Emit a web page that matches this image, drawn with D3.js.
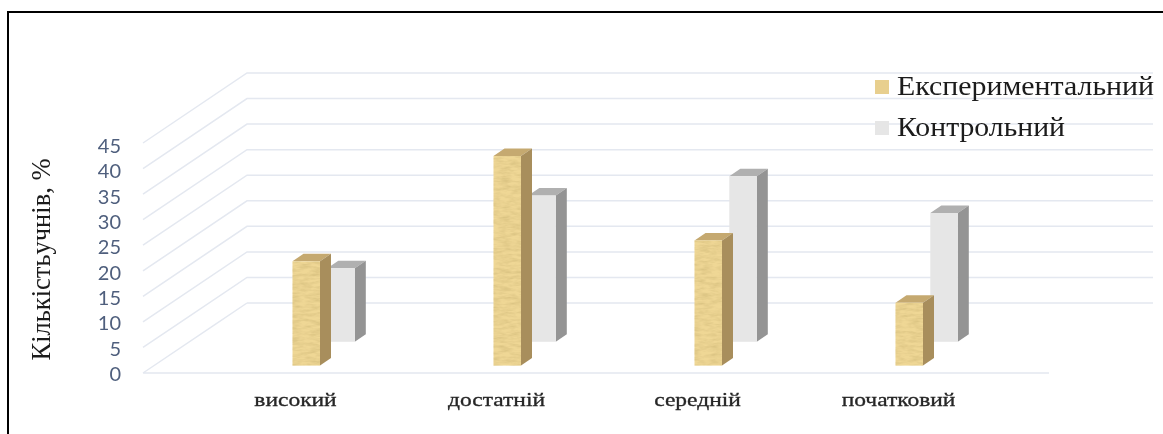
<!DOCTYPE html>
<html><head><meta charset="utf-8">
<style>html,body{margin:0;padding:0;background:#fff;overflow:hidden}svg{display:block}</style>
<script src="https://cdn.jsdelivr.net/npm/d3@7/dist/d3.min.js"></script>
</head><body><svg id="c" width="1163" height="434"></svg>
<script>
const categories=["високий","достатній","середній","початковий"];
const experimental=[20.4,41,24.5,12.3];
const control=[14.4,28.6,32.4,25.2];
const seriesNames=["Експериментальний","Контрольний"];
const ticks=[0,5,10,15,20,25,30,35,40,45];

const svg=d3.select("#c");
const defs=svg.append("defs");
const f=defs.append("filter").attr("id","soft").attr("x","-2%").attr("y","-2%").attr("width","104%").attr("height","104%");
f.append("feGaussianBlur").attr("stdDeviation",0.45);
const w=defs.append("filter").attr("id","wood").attr("x","0").attr("y","0").attr("width","100%").attr("height","100%");
w.append("feTurbulence").attr("type","fractalNoise").attr("baseFrequency","0.09 0.35").attr("numOctaves",3).attr("seed",4).attr("result","n");
w.append("feColorMatrix").attr("in","n").attr("type","matrix").attr("values","0 0 0 0 0.55  0 0 0 0 0.42  0 0 0 0 0.15  0.9 0 0 0 -0.3").attr("result","t");
w.append("feComposite").attr("in","t").attr("in2","SourceGraphic").attr("operator","in").attr("result","c");
w.append("feMerge").selectAll("feMergeNode").data(["SourceGraphic","c"]).join("feMergeNode").attr("in",d=>d);

const root=svg.append("g").attr("filter","url(#soft)");
const y=d3.scaleLinear().domain([0,45]).range([373,143]);
const yLabel=d3.scaleLinear().domain([0,45]).range([376,148]);
const x=d3.scaleBand().domain(categories).range([194.5,998.5]);
const DX=104,DY=-70,L=143,R=1049;

const grid=root.append("g").attr("fill","none").attr("stroke","#e4e8f0").attr("stroke-width",1.5);
grid.selectAll("path").data(ticks).join("path")
  .attr("d",t=>t===0
    ? `M${L+DX},${y(t)+DY}H${R+DX}M${L},${y(t)}L${L+DX},${y(t)+DY}M${L},${y(t)}H${R}`
    : `M${L},${y(t)}L${L+DX},${y(t)+DY}H${R+DX}`);

root.append("g").selectAll("text").data(ticks).join("text")
  .attr("x",121).attr("y",t=>yLabel(t)).attr("text-anchor","end").attr("dominant-baseline","middle")
  .attr("font-family","Lato, 'Open Sans', sans-serif").attr("font-size",20).attr("fill","#4f5f7d").text(d=>d);

const unit=y(0)-y(1);
function bar(g,cx,base,v,front,top,side,fil){
  const h=v*unit,W=27.5,dx=11,dy=-7.5;
  g.append("path").attr("fill",top).attr("d",`M${cx},${base-h}l${dx},${dy}h${W}l${-dx},${-dy}z`);
  g.append("path").attr("fill",side).attr("d",`M${cx+W},${base}v${-h}l${dx},${dy}v${h}z`);
  const r=g.append("rect").attr("x",cx).attr("y",base-h).attr("width",W).attr("height",h).attr("fill",front);
  if(fil){r.attr("filter",fil);}
}
const bars=root.append("g");
categories.forEach((c,i)=>{
  const cx=x(c)+x.bandwidth()/2;
  const g=bars.append("g");
  bar(g,cx+32.3,341.8,control[i],"#e6e6e6","#b0b0b0","#949494");
  bar(g,cx-2.5,365.6,experimental[i],"#efd795","#c5a970","#a88e5c","url(#wood)");
});

root.append("g").selectAll("text").data(categories).join("text")
  .attr("transform",d=>`translate(${x(d)+x.bandwidth()/2+0.5},406) scale(1.27,1)`).attr("text-anchor","middle")
  .attr("font-family","'Liberation Serif', serif").attr("font-size",18.5).attr("fill","#262626")
  .attr("stroke","#262626").attr("stroke-width",0.3).text(d=>d);

root.append("text").attr("transform","translate(50,259.5) rotate(-90)").attr("text-anchor","middle")
  .attr("font-family","'Liberation Serif', serif").attr("font-size",26.5).attr("fill","#1a1a1a")
  .text("Кількістьучнів, %");

const legY=[80,121];
const legBase=[95,136];
const legLen=[257,168];
const leg=root.append("g");
seriesNames.forEach((n,i)=>{
  leg.append("rect").attr("x",875).attr("y",legY[i]).attr("width",14).attr("height",14)
    .attr("fill",i?"#e6e6e6":"#e8cf8e");
  leg.append("text").attr("x",897).attr("y",legBase[i]).attr("font-family","'Liberation Serif', serif")
    .attr("font-size",27).attr("fill","#1a1a1a").attr("textLength",legLen[i]).attr("lengthAdjust","spacingAndGlyphs").text(n);
});

root.append("path").attr("fill","none").attr("stroke","#000").attr("stroke-width",2)
  .attr("d","M8,434V12H1163");
</script></body></html>
